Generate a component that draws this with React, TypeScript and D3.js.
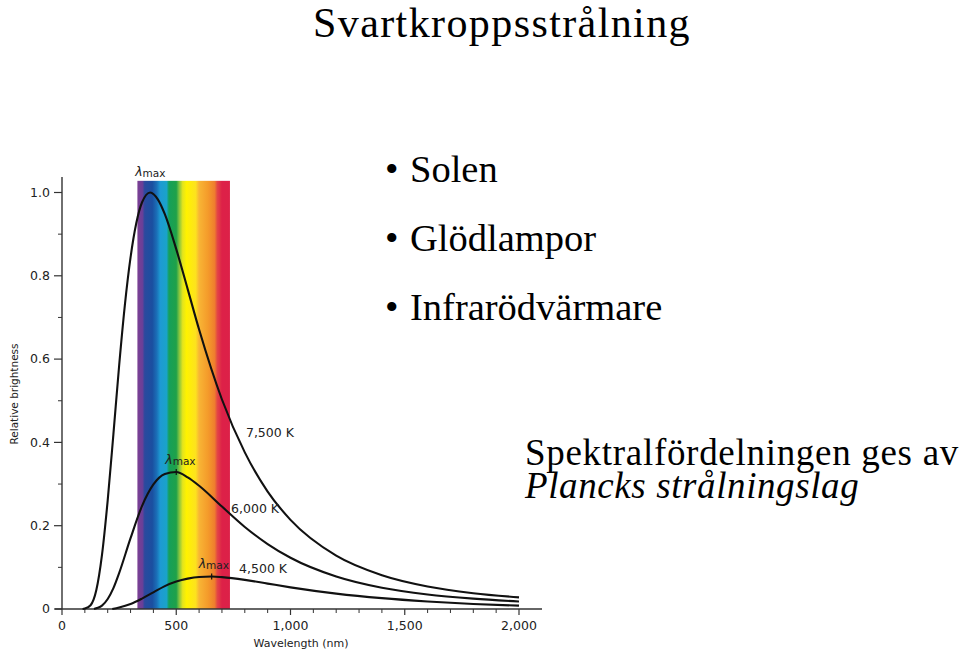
import React from 'react';
import * as d3 from 'd3';

// Slide texts
const TITLE = 'Svartkroppsstrålning';
const BULLETS = ['Solen', 'Glödlampor', 'Infrarödvärmare'];
const NOTE_LINE1 = 'Spektralfördelningen ges av';
const NOTE_LINE2 = 'Plancks strålningslag';

// Curves (wavelength in nm, relative brightness)
const TEMP_LABELS = ['7,500 K', '6,000 K', '4,500 K'];

const NM_7500 = [90, 100, 125, 150, 175, 200, 225, 250, 275, 300, 325, 350, 386, 420, 450, 500, 550, 600, 700, 800, 900, 1000, 1200, 1400, 1600, 1800, 2000];
const B_7500 = [0, 0.001, 0.009, 0.045, 0.13, 0.261, 0.42, 0.584, 0.729, 0.844, 0.926, 0.976, 1.0, 0.983, 0.948, 0.864, 0.768, 0.671, 0.503, 0.376, 0.282, 0.214, 0.128, 0.081, 0.054, 0.038, 0.028];

const NM_6000 = [140, 150, 175, 200, 225, 250, 300, 350, 400, 450, 500, 550, 600, 700, 800, 900, 1000, 1200, 1400, 1600, 1800, 2000];
const B_6000 = [0, 0.002, 0.008, 0.024, 0.05, 0.086, 0.17, 0.247, 0.299, 0.324, 0.329, 0.316, 0.296, 0.246, 0.197, 0.156, 0.123, 0.078, 0.051, 0.035, 0.025, 0.018];

const NM_4500 = [220, 250, 300, 350, 400, 450, 500, 550, 600, 655, 700, 800, 900, 1000, 1200, 1400, 1600, 1800, 2000];
const B_4500 = [0, 0.0035, 0.012, 0.025, 0.04, 0.055, 0.066, 0.073, 0.077, 0.078, 0.0765, 0.07, 0.061, 0.052, 0.037, 0.026, 0.018, 0.012, 0.008];

// λmax of each curve
const PEAK_NM = [386, 500, 655];
const PEAK_B = [1.0, 0.329, 0.078];

// visible band and its colours
const BAND_NM = [330, 735];
const BAND_TOP = 1.028;
const SPECTRUM_NM = [330, 352, 362, 395, 415, 430, 458, 468, 500, 512, 528, 545, 585, 600, 640, 668, 680, 700, 735];
const SPECTRUM_COLORS = ['#7b3f93', '#6a3f98', '#2a4a9e', '#1a4fa0', '#1b70b8', '#1d9ad3', '#1aa3c9', '#15a05a', '#1fa149', '#7dc242', '#e3e41d', '#fff200', '#fde21e', '#f8b535', '#f49a2a', '#ef7d2e', '#e34446', '#dd2148', '#dc2148'];

const X_MAJOR = [0, 500, 1000, 1500, 2000];
const X_LABELS = ['0', '500', '1,000', '1,500', '2,000'];
const Y_MAJOR = [0, 0.2, 0.4, 0.6, 0.8, 1.0];
const Y_LABELS = ['0', '0.2', '0.4', '0.6', '0.8', '1.0'];

const SANS = '"DejaVu Sans", "Open Sans", sans-serif';
const SERIF = '"Liberation Serif", "Times New Roman", serif';

export default function App() {
  const x = d3.scaleLinear().domain([0, 2000]).range([62, 519]);
  const y = d3.scaleLinear().domain([0, 1]).range([609, 192.5]);

  const line = d3
    .line<[number, number]>()
    .x((d) => x(d[0]))
    .y((d) => y(d[1]))
    .curve(d3.curveMonotoneX);

  const curves = [
    d3.zip(NM_7500, B_7500) as [number, number][],
    d3.zip(NM_6000, B_6000) as [number, number][],
    d3.zip(NM_4500, B_4500) as [number, number][],
  ];

  const xMinor = d3.range(100, 2001, 100).filter((v) => v % 500 !== 0);
  const yMinor = [0.1, 0.3, 0.5, 0.7, 0.9];

  // label anchors in data units
  const tempLabelAt: [number, number][] = [
    [805, 0.413],
    [740, 0.23],
    [775, 0.086],
  ];

  const axisColor = '#333';
  const textColor = '#222';

  const lambdaMax = (lx: number, ly: number, key: string) => (
    <text key={key} x={lx} y={ly} fontFamily={SANS} fill={textColor}>
      <tspan fontSize={12.5} fontStyle="italic">λ</tspan>
      <tspan fontSize={10.5} dy={1.5}>max</tspan>
    </text>
  );

  return (
    <svg width={960} height={656} style={{ position: 'absolute', left: 0, top: 0, background: '#fff' }}>
      <defs>
        <linearGradient id="spectrum" gradientUnits="userSpaceOnUse" x1={x(BAND_NM[0])} x2={x(BAND_NM[1])} y1={0} y2={0}>
          {SPECTRUM_NM.map((nm, i) => (
            <stop
              key={nm}
              offset={(nm - BAND_NM[0]) / (BAND_NM[1] - BAND_NM[0])}
              stopColor={SPECTRUM_COLORS[i]}
            />
          ))}
        </linearGradient>
      </defs>

      {/* slide texts */}
      <text x={313} y={37} fontFamily={SERIF} fontSize={42} letterSpacing={1.4} fill="#000">
        {TITLE}
      </text>
      {BULLETS.map((b, i) => (
        <g key={b}>
          <text x={385} y={181.5 + i * 69.2} fontFamily={SERIF} fontSize={38.5} fill="#000">•</text>
          <text x={410} y={181.5 + i * 69.2} fontFamily={SERIF} fontSize={38.5} fill="#000">{b}</text>
        </g>
      ))}
      <text x={525} y={465} fontFamily={SERIF} fontSize={37} letterSpacing={0.7} fill="#000">{NOTE_LINE1}</text>
      <text x={525} y={498} fontFamily={SERIF} fontSize={37} letterSpacing={0.6} fontStyle="italic" fill="#000">{NOTE_LINE2}</text>

      {/* visible band */}
      <rect
        x={x(BAND_NM[0])}
        y={y(BAND_TOP)}
        width={x(BAND_NM[1]) - x(BAND_NM[0])}
        height={y(0) - y(BAND_TOP)}
        fill="url(#spectrum)"
      />

      {/* axes */}
      <line x1={55} x2={542} y1={y(0)} y2={y(0)} stroke={axisColor} strokeWidth={1.4} />
      <line x1={x(0)} x2={x(0)} y1={y(0)} y2={177} stroke={axisColor} strokeWidth={1.4} />
      {X_MAJOR.map((v, i) => (
        <g key={v}>
          <line x1={x(v)} x2={x(v)} y1={y(0)} y2={y(0) + 6} stroke={axisColor} strokeWidth={1.2} />
          <text x={x(v)} y={630} textAnchor="middle" fontFamily={SANS} fontSize={12.5} fill={textColor}>
            {X_LABELS[i]}
          </text>
        </g>
      ))}
      {xMinor.map((v) => (
        <line key={v} x1={x(v)} x2={x(v)} y1={y(0)} y2={y(0) + 4} stroke={axisColor} strokeWidth={1} />
      ))}
      {Y_MAJOR.map((v, i) => (
        <g key={v}>
          <line x1={x(0) - 8} x2={x(0)} y1={y(v)} y2={y(v)} stroke={axisColor} strokeWidth={1.2} />
          <text x={50} y={y(v)} dy="0.35em" textAnchor="end" fontFamily={SANS} fontSize={12.5} fill={textColor}>
            {Y_LABELS[i]}
          </text>
        </g>
      ))}
      {yMinor.map((v) => (
        <line key={v} x1={x(0) - 4} x2={x(0)} y1={y(v)} y2={y(v)} stroke={axisColor} strokeWidth={1} />
      ))}
      <text x={301} y={647} textAnchor="middle" fontFamily={SANS} fontSize={11} fill={textColor}>
        Wavelength (nm)
      </text>
      <text
        transform={`translate(18,394) rotate(-90)`}
        textAnchor="middle"
        fontFamily={SANS}
        fontSize={10.5}
        fill={textColor}
      >
        Relative brightness
      </text>

      {/* curves */}
      {curves.map((c, i) => (
        <path key={TEMP_LABELS[i]} d={line(c) ?? ''} fill="none" stroke="#111" strokeWidth={2.1} />
      ))}

      {/* peak markers and λmax labels */}
      {PEAK_NM.slice(1).map((nm, i) => (
        <line
          key={nm}
          x1={x(nm)}
          x2={x(nm)}
          y1={y(PEAK_B[i + 1]) - 3}
          y2={y(PEAK_B[i + 1]) + 3}
          stroke="#111"
          strokeWidth={1.2}
        />
      ))}
      {lambdaMax(x(PEAK_NM[0]) - 15, y(BAND_TOP) - 5, 'l0')}
      {lambdaMax(x(PEAK_NM[1]) - 11, y(PEAK_B[1]) - 8, 'l1')}
      {lambdaMax(x(PEAK_NM[2]) - 13, y(PEAK_B[2]) - 9, 'l2')}

      {/* temperature labels */}
      {TEMP_LABELS.map((t, i) => (
        <text
          key={t}
          x={x(tempLabelAt[i][0])}
          y={y(tempLabelAt[i][1])}
          fontFamily={SANS}
          fontSize={12.5}
          fill={textColor}
        >
          {t}
        </text>
      ))}
    </svg>
  );
}
